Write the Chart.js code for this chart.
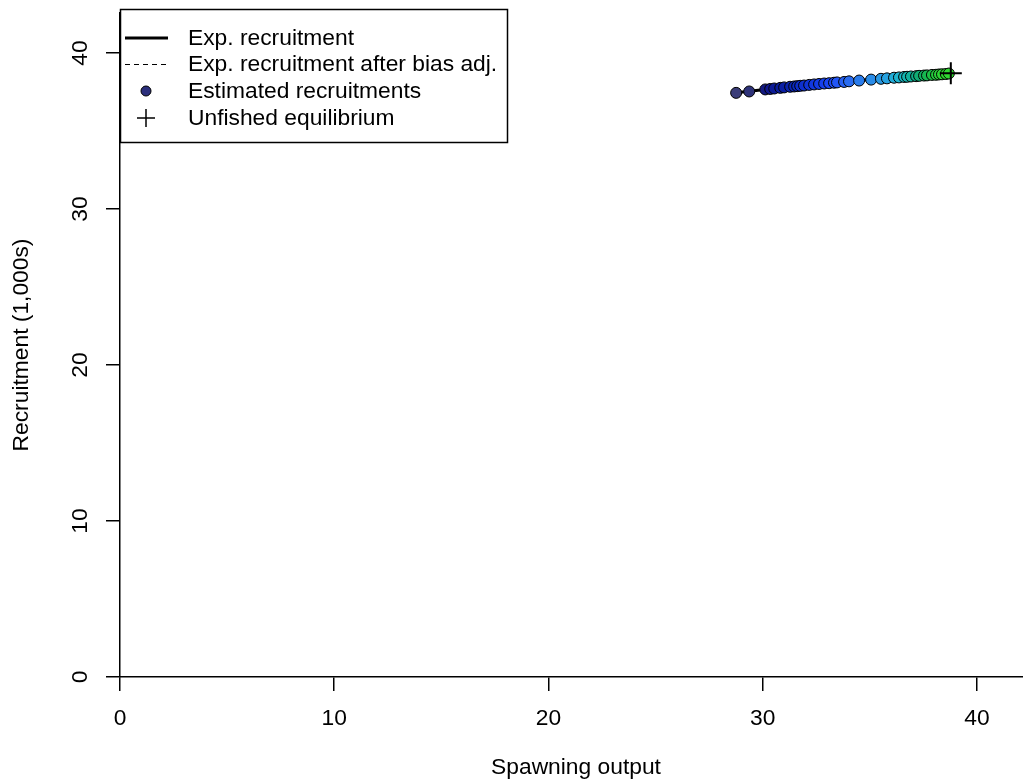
<!DOCTYPE html>
<html>
<head>
<meta charset="utf-8">
<script src="https://cdn.jsdelivr.net/npm/chart.js@4.4.0/dist/chart.umd.min.js"></script>
<style>
  html, body { margin: 0; padding: 0; background: #fff; overflow: hidden; }
  #wrap { width: 1045px; height: 784px; }
</style>
</head>
<body>
<div id="wrap"><canvas id="srChart" width="1045" height="784"></canvas></div>
<script>
// estimated recruitments (spawning output vs recruitment)
const spawningOutput = [
  28.76, 29.37, 30.12, 30.35, 30.54, 30.82, 31.00, 31.28, 31.47, 31.61,
  31.75, 31.93, 32.17, 32.40, 32.63, 32.87, 33.10, 33.33, 33.47, 33.80,
  34.03, 34.50, 35.06, 35.52, 35.80, 36.13, 36.36, 36.60, 36.74, 36.92,
  37.16, 37.30, 37.53, 37.67, 37.90, 38.09, 38.23, 38.37, 38.55, 38.69,
];
const recruitment = [
  37.45, 37.54, 37.67, 37.70, 37.73, 37.77, 37.80, 37.84, 37.86, 37.88,
  37.90, 37.92, 37.96, 37.99, 38.02, 38.05, 38.07, 38.10, 38.12, 38.15,
  38.19, 38.24, 38.30, 38.35, 38.38, 38.42, 38.44, 38.47, 38.48, 38.50,
  38.52, 38.54, 38.56, 38.57, 38.60, 38.61, 38.63, 38.64, 38.66, 38.69,
];

// expected recruitment curve over the range of the estimates
const curveSSB = [28.76, 30.0, 32.0, 34.0, 36.0, 38.0, 38.78];
const curveRec = [37.45, 37.65, 37.94, 38.19, 38.42, 38.63, 38.70];

// unfished equilibrium
const unfishedSSB = [38.78];
const unfishedRec = [38.70];

const tickValues = [0, 10, 20, 30, 40];
const X_MAX = 42.57;
const Y_MAX = 42.57;

const pointColors = [
  "#3b3d78", "#2e3278", "#141a80", "#101890", "#0c1a96", "#0a1c9c", "#0a1ea4", "#0a22ae", "#0a26b8", "#0a28c0",
  "#0c2cc8", "#0e30d0", "#1034d8", "#1238e0", "#143ce8", "#1640ee", "#1a46f4", "#1e4cf8", "#2256f8", "#2660f4",
  "#2a6cf0", "#2a7cec", "#2a8ce8", "#2898e4", "#26a2e0", "#22acd8", "#1eb4d0", "#18b8c4", "#14b4b0", "#10b09c",
  "#10ac88", "#10ac74", "#12b060", "#16b850", "#1cc044", "#22c83c", "#28d038", "#2cd434", "#30d830", "#30d830",
];

const FONT = "22.8px 'Liberation Sans', Arial, sans-serif";

function toXY(xs, ys) {
  return xs.map((x, i) => ({ x, y: ys[i] }));
}

// axis labels + titles drawn with the scales' own pixel mapping
const axisText = {
  id: "axisText",
  afterDraw(chart) {
    const { ctx, scales: { x, y }, chartArea } = chart;
    ctx.save();
    ctx.fillStyle = "#000";
    ctx.font = FONT;
    ctx.textAlign = "center";
    ctx.textBaseline = "middle";
    tickValues.forEach((v) => ctx.fillText(String(v), x.getPixelForValue(v), 719));
    tickValues.forEach((v) => {
      ctx.save();
      ctx.translate(81, y.getPixelForValue(v));
      ctx.rotate(-Math.PI / 2);
      ctx.fillText(String(v), 0, 0);
      ctx.restore();
    });
    ctx.fillText("Spawning output", (chartArea.left + chartArea.right) / 2, 768);
    ctx.save();
    ctx.translate(22, (chartArea.top + chartArea.bottom) / 2);
    ctx.rotate(-Math.PI / 2);
    ctx.fillText("Recruitment (1,000s)", 0, 0);
    ctx.restore();
    ctx.restore();
  },
};

// R-style boxed legend in the top-left corner
const boxLegend = {
  id: "boxLegend",
  afterDraw(chart) {
    const ctx = chart.ctx;
    const left = 120.5, top = 9.5, w = 387, h = 133;
    ctx.save();
    ctx.fillStyle = "#fff";
    ctx.fillRect(left, top, w, h);
    ctx.strokeStyle = "#000";
    ctx.lineWidth = 1.5;
    ctx.strokeRect(left, top, w, h);

    const rows = [38, 64, 91, 118];
    ctx.lineWidth = 3;
    ctx.beginPath(); ctx.moveTo(125, rows[0]); ctx.lineTo(168, rows[0]); ctx.stroke();
    ctx.lineWidth = 1;
    ctx.setLineDash([5, 4]);
    ctx.beginPath(); ctx.moveTo(125, rows[1] + 0.5); ctx.lineTo(168, rows[1] + 0.5); ctx.stroke();
    ctx.setLineDash([]);
    ctx.beginPath(); ctx.arc(146, rows[2], 5, 0, Math.PI * 2);
    ctx.fillStyle = "#2c2f7c"; ctx.fill(); ctx.stroke();
    ctx.lineWidth = 1.5;
    ctx.beginPath();
    ctx.moveTo(137, rows[3]); ctx.lineTo(155, rows[3]);
    ctx.moveTo(146, rows[3] - 9); ctx.lineTo(146, rows[3] + 9);
    ctx.stroke();

    ctx.fillStyle = "#000";
    ctx.font = FONT;
    ctx.textAlign = "left";
    ctx.textBaseline = "middle";
    ["Exp. recruitment", "Exp. recruitment after bias adj.", "Estimated recruitments", "Unfished equilibrium"]
      .forEach((t, i) => ctx.fillText(t, 188, rows[i] + 1));
    ctx.restore();
  },
};

new Chart(document.getElementById("srChart"), {
  type: "scatter",
  data: {
    datasets: [
      {
        label: "Unfished equilibrium",
        data: toXY(unfishedSSB, unfishedRec),
        pointStyle: "cross",
        pointRadius: 11,
        borderColor: "#000",
        borderWidth: 2,
      },
      {
        label: "Estimated recruitments",
        data: toXY(spawningOutput, recruitment),
        pointRadius: 5.5,
        pointBackgroundColor: pointColors,
        pointBorderColor: "#000",
        pointBorderWidth: 1,
      },
      {
        label: "Exp. recruitment after bias adj.",
        data: toXY(curveSSB, curveRec),
        showLine: true,
        pointRadius: 0,
        borderColor: "#000",
        borderWidth: 1,
        borderDash: [5, 4],
      },
      {
        label: "Exp. recruitment",
        data: toXY(curveSSB, curveRec),
        showLine: true,
        pointRadius: 0,
        borderColor: "#000",
        borderWidth: 3,
      },
    ],
  },
  options: {
    responsive: false,
    animation: false,
    layout: { padding: { top: 9, right: 12, left: 0, bottom: 0 } },
    plugins: { legend: { display: false }, tooltip: { enabled: false } },
    scales: {
      x: {
        type: "linear",
        min: 0,
        max: X_MAX,
        afterBuildTicks: (s) => { s.ticks = tickValues.map((v) => ({ value: v })); },
        afterFit: (s) => { s.height = 107; },
        ticks: { display: false },
        grid: { drawOnChartArea: false, drawTicks: true, tickLength: 14, color: "#000", lineWidth: 1.5 },
        border: { display: true, color: "#000", width: 1.5 },
      },
      y: {
        type: "linear",
        min: 0,
        max: Y_MAX,
        afterBuildTicks: (s) => { s.ticks = tickValues.map((v) => ({ value: v })); },
        afterFit: (s) => { s.width = 120; },
        ticks: { display: false },
        grid: { drawOnChartArea: false, drawTicks: true, tickLength: 14, color: "#000", lineWidth: 1.5 },
        border: { display: true, color: "#000", width: 1.5 },
      },
    },
  },
  plugins: [axisText, boxLegend],
});
</script>
</body>
</html>
